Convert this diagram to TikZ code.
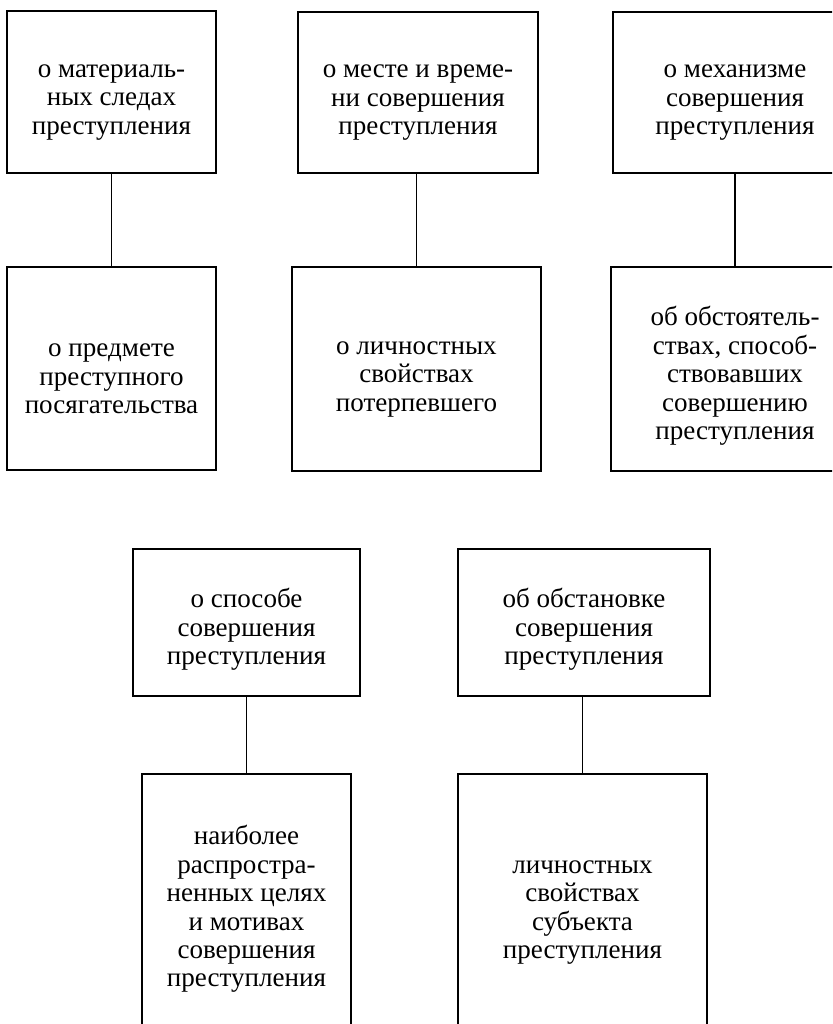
\documentclass[tikz,border=0pt]{standalone}
\usepackage{fontspec}
\setmainfont{Liberation Serif}
\usetikzlibrary{positioning}
\newcommand{\boxlift}{\rule{0pt}{19pt}}

\begin{document}
\begin{tikzpicture}[x=0.02cm,y=-0.02cm,
  box/.style={draw=black,line width=0.9pt,align=center,inner sep=0pt,
    font=\fontsize{15.4}{16.2}\selectfont},
  link/.style={draw=black,line width=0.6pt}]
\useasboundingbox (0,0) rectangle (832,1024);
\clip (0,0) rectangle (832,1024);
% top row
\node[box,minimum width=4.18cm,minimum height=3.24cm] (mat) at (111.5,92) {\boxlift о материаль-\\ных следах\\преступления};
\node[box,minimum width=4.18cm,minimum height=4.06cm] (pred) at (111.5,368.5) {\boxlift о предмете\\преступного\\посягательства};
\node[box,minimum width=4.8cm,minimum height=3.22cm] (mesto) at (418,92.5) {\boxlift о месте и време-\\ни совершения\\преступления};
\node[box,minimum width=4.98cm,minimum height=4.08cm] (lich) at (416.5,369) {\boxlift о личностных\\свойствах\\потерпевшего};
\node[box,minimum width=4.88cm,minimum height=3.22cm] (meh) at (735,92.5) {\boxlift о механизме\\совершения\\преступления};
\node[box,minimum width=4.96cm,minimum height=4.08cm] (obst) at (735,369) {\boxlift об обстоятель-\\ствах, способ-\\ствовавших\\совершению\\преступления};
% bottom row
\node[box,minimum width=4.54cm,minimum height=2.94cm] (sposob) at (246.5,622.5) {\boxlift о способе\\совершения\\преступления};
\node[box,minimum width=4.18cm,minimum height=5.12cm] (celi) at (246.5,902) {\boxlift наиболее\\распростра-\\ненных целях\\и мотивах\\совершения\\преступления};
\node[box,minimum width=5.04cm,minimum height=2.94cm] (obstan) at (584,622.5) {\boxlift об обстановке\\совершения\\преступления};
\node[box,minimum width=4.98cm,minimum height=5.12cm] (subj) at (582.5,902) {\boxlift личностных\\свойствах\\субъекта\\преступления};
% connectors
\draw[link] (mat.south) -- (pred.north);
\draw[link] (lich.north) -- (lich.north |- mesto.south);
\draw[link] (meh.south) -- (obst.north);
\draw[link] (sposob.south) -- (celi.north);
\draw[link] (subj.north) -- (subj.north |- obstan.south);
\end{tikzpicture}
\end{document}
